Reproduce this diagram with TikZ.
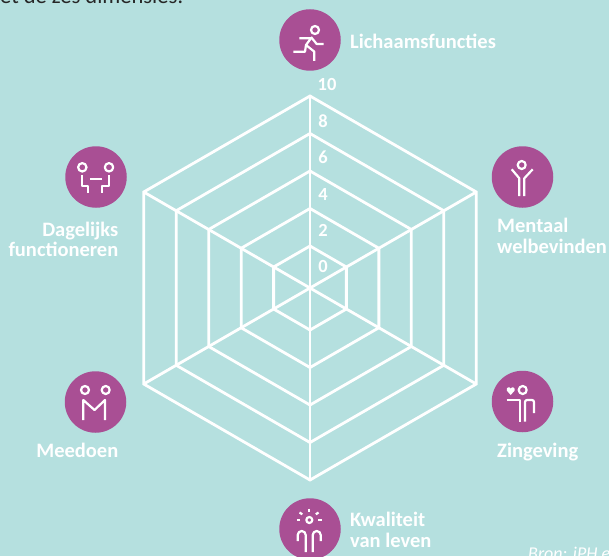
\documentclass[tikz,border=0pt]{standalone}
\usepackage{fontspec}
\setmainfont{Carlito}
\definecolor{bgc}{HTML}{B5E0DF}
\definecolor{purp}{HTML}{A94F94}
\tikzset{
  web/.style={draw=white,line width=2.8pt,line join=miter},
  disc/.style={circle,fill=purp,draw=none,minimum size=61.5pt,inner sep=0pt},
  ico/.style={draw=white,line width=2.2pt,line join=round,line cap=butt},
  lab/.style={text=white,font=\fontsize{20.5}{22}\selectfont\bfseries,inner sep=0pt},
  num/.style={text=white,font=\fontsize{18.5}{20}\selectfont\bfseries,inner sep=0pt,anchor=base},
}
\begin{document}
\begin{tikzpicture}[x=1pt,y=-1pt]
\useasboundingbox (0,0) rectangle (609,556);
\clip (0,0) rectangle (609,556);
\fill[bgc] (0,0) rectangle (609,556);
% web
\coordinate (c) at (310,288);
\foreach \r in {42,79.5,117,154.5,192}{
  \draw[web] (310,288) ++(90:\r) -- ++(-30:\r) -- ++(-90:\r) -- ++(-150:\r) -- ++(150:\r) -- ++(90:\r) -- cycle;
}
\coordinate (t) at (310,96); \coordinate (b) at (310,480);
\coordinate (ul) at (143.7,192); \coordinate (lr) at (476.3,384);
\coordinate (ur) at (476.3,192); \coordinate (ll) at (143.7,384);
\draw[web] (t) -- (b);
\draw[web] (ul) -- (lr);
\draw[web] (ur) -- (ll);
% numbers
\node[num] (n10) at (327,91) {10};
\node[num] (n8) at (323,128) {8};
\node[num] (n6) at (323,164) {6};
\node[num] (n4) at (323,200) {4};
\node[num] (n2) at (323,236) {2};
\node[num] (n0) at (323,272) {0};
% discs
\node[disc] (d1) at (310,40) {};
\node[disc] (d2) at (522.5,177) {};
\node[disc] (d3) at (522.5,401.5) {};
\node[disc] (d4) at (310,529) {};
\node[disc] (d5) at (95.5,402) {};
\node[disc] (d6) at (96,177) {};
% runner
\draw[ico] (315,30) circle (4);
\draw[ico] (299.3,38.3) -- (311,38.3) -- (306,45) -- (305,51.7) -- (293.3,51.7);
\draw[ico] (311,37) -- (316.7,44) -- (323.5,44);
\draw[ico] (306,45) -- (314.3,51.7) -- (314.3,61);
% mental
\draw[ico] (521.7,165) circle (4);
\draw[ico] (511.7,169.3) -- (519.3,178.3) -- (519.3,196);
\draw[ico] (532.7,169.3) -- (524.3,178.3) -- (524.3,196);
% zingeving
\draw[ico] (522.7,390) circle (4);
\fill[white] (510.7,395) -- (506.8,390.6) .. controls (505.8,387.4) and (509.6,386.2) .. (510.7,388.6) .. controls (511.8,386.2) and (515.6,387.4) .. (514.6,390.6) -- cycle;
\draw[ico] (506.7,400) -- (520,400) -- (520,421.7);
\draw[ico,rounded corners=2pt] (525,421.7) -- (525,400) -- (534,400) -- (534,413);
% kwaliteit
\draw[ico] (309.3,520) circle (3);
\draw[ico] (309.3,508.5) -- (309.3,512);
\draw[ico] (299.5,512.5) -- (302.3,514.3);
\draw[ico] (318.5,512.5) -- (315.8,514.3);
\draw[ico] (296.8,520) -- (300.3,520);
\draw[ico] (318,520) -- (321.5,520);
\draw[ico] (297.7,541) -- (297.7,535) arc[start angle=180,end angle=360,radius=4] -- (305.7,552);
\draw[ico] (312.7,552) -- (312.7,535) arc[start angle=180,end angle=360,radius=4] -- (320.7,541);
% meedoen
\draw[ico] (85,390) circle (4);
\draw[ico] (105.7,390) circle (4);
\draw[ico] (83.3,420) -- (83.3,400) -- (94.5,410) -- (105,400) -- (105,420);
% dagelijks
\draw[ico] (82.3,167.3) circle (4.2);
\draw[ico] (109,167.3) circle (4.2);
\draw[ico] (90,179.3) -- (101.7,179.3);
\draw[ico] (82.3,175) -- (82.3,186) -- (88.3,186) -- (88.3,193.3);
\draw[ico] (109,175) -- (109,186) -- (101.7,186) -- (101.7,193.3);
% labels
\node[lab,anchor=base west] (l1) at (350,48.3) {Lichaamsfuncties};
\node[lab,anchor=base west] (l2a) at (497,232.7) {Mentaal};
\node[lab,anchor=base west] (l2b) at (497,253) {welbevinden};
\node[lab,anchor=base west] (l3) at (497,457.3) {Zingeving};
\node[lab,anchor=base west] (l4a) at (350,526) {Kwaliteit};
\node[lab,anchor=base west] (l4b) at (350,547) {van leven};
\node[lab,anchor=base east] (l5) at (118.5,457.5) {Meedoen};
\node[lab,anchor=base east] (l6a) at (118.5,236.7) {Dagelijks};
\node[lab,anchor=base east] (l6b) at (118.5,256.7) {functioneren};
% clipped page texts
\node[text=black!85,font=\fontsize{22.5}{24}\selectfont,inner sep=0pt,anchor=base west] (top) at (0,3.5) {et de zes dimensies:};
\node[text=white,font=\fontsize{18}{20}\selectfont\itshape,inner sep=0pt,anchor=base west] (src) at (528,559.5) {Bron: iPH e};
\end{tikzpicture}
\end{document}
